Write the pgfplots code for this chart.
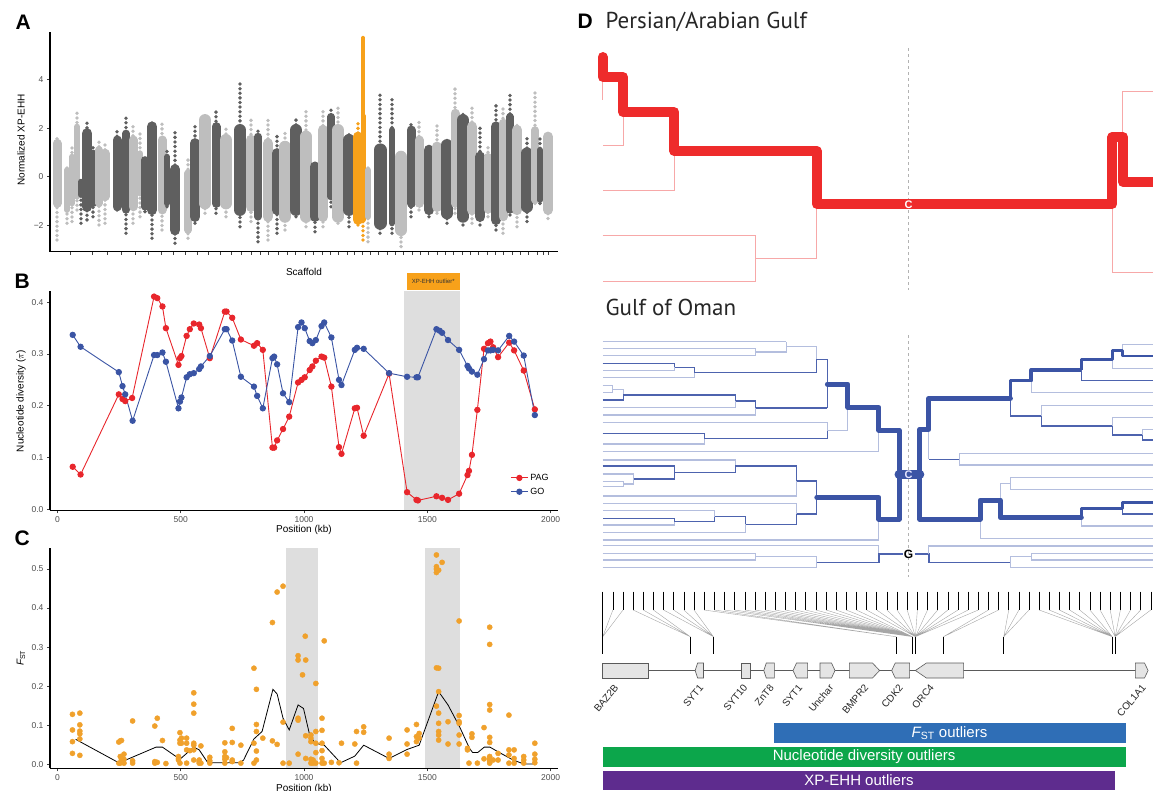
\documentclass[border=0pt]{standalone}
\usepackage{pgfplots}
\pgfplotsset{compat=1.18}
\usepackage{fontspec}
\setmainfont{Liberation Sans}
\setsansfont{Liberation Sans}
\newfontfamily\ptsans{PT Sans}
\definecolor{lgray}{HTML}{BEBEBE}
\definecolor{dgray}{HTML}{5F5F5F}
\definecolor{xorange}{HTML}{F7A11A}
\definecolor{pagred}{HTML}{E8262C}
\definecolor{goblue}{HTML}{3A54A4}
\definecolor{shade}{HTML}{DEDEDE}
\definecolor{fstorange}{HTML}{F0A12C}
\definecolor{treered}{HTML}{EE2B2B}
\definecolor{treeredl}{HTML}{F7A8A8}
\definecolor{tblue}{HTML}{3B54A5}
\definecolor{tbluem}{HTML}{4D63AE}
\definecolor{tbluel}{HTML}{B4BEDE}
\definecolor{genefill}{HTML}{E5E5E5}
\definecolor{genedraw}{HTML}{5A5A5A}
\definecolor{barblue}{HTML}{2F6EB6}
\definecolor{bargreen}{HTML}{0CA64B}
\definecolor{barpurple}{HTML}{5E2C8E}
\definecolor{gray30}{HTML}{4D4D4D}
\pgfplotsset{
  ggax/.style={scale only axis, axis x line*=bottom, axis y line*=left,
    axis line style={line width=1.3pt, black}, tick style={black!75, line width=0.7pt},
    major tick length=3pt, tick align=outside,
    tick label style={font=\fontsize{8.5}{10}\selectfont, color=gray30},
    /pgf/number format/assume math mode=true},
  col/.style={line cap=round, line width=#1},
  tl/.style={line cap=round, line width=3.8pt, dash pattern=on 0pt off 4.6pt},
  obl/.style={tbluel, line width=1.1pt},
  obm/.style={tbluem, line width=1.2pt},
  obt/.style={tblue, line width=5pt, line cap=round, line join=round},
  obt3/.style={tblue, line width=3.5pt, line join=round},
  obt2/.style={tblue, line width=2.6pt, line join=round},
  pthin/.style={treeredl, line width=1pt},
  pthick/.style={treered, line width=10pt, line cap=round, line join=round},
}
\pgfplotstableread{
kb val
62 0.082
94 0.067
249 0.222
264 0.213
275 0.209
303 0.215
392 0.411
405 0.408
426 0.392
440 0.350
491 0.279
497 0.292
503 0.296
524 0.335
537 0.348
553 0.359
575 0.357
582 0.350
618 0.292
679 0.382
686 0.382
709 0.370
744 0.328
797 0.316
810 0.321
833 0.308
872 0.119
879 0.119
891 0.133
915 0.155
940 0.179
976 0.245
990 0.250
1003 0.255
1023 0.269
1034 0.276
1048 0.287
1071 0.295
1082 0.293
1111 0.237
1142 0.120
1152 0.107
1206 0.195
1215 0.196
1242 0.142
1345 0.262
1418 0.033
1456 0.018
1462 0.017
1537 0.025
1560 0.022
1584 0.018
1629 0.030
1663 0.066
1669 0.074
1681 0.105
1703 0.192
1730 0.310
1746 0.321
1756 0.324
1767 0.313
1787 0.294
1832 0.322
1852 0.307
1891 0.268
1936 0.193
}\pag
\pgfplotstableread{
kb val
62 0.337
94 0.314
249 0.265
264 0.238
275 0.222
305 0.171
392 0.298
405 0.298
426 0.303
440 0.285
491 0.195
497 0.208
503 0.216
524 0.255
537 0.261
553 0.263
575 0.271
582 0.276
618 0.296
679 0.348
686 0.348
709 0.326
744 0.256
797 0.237
810 0.219
833 0.195
872 0.292
879 0.295
891 0.280
915 0.224
940 0.207
976 0.352
990 0.361
1003 0.350
1023 0.325
1034 0.321
1048 0.327
1071 0.354
1082 0.361
1111 0.332
1142 0.250
1152 0.240
1206 0.308
1215 0.312
1242 0.310
1345 0.263
1418 0.256
1456 0.255
1462 0.255
1537 0.348
1550 0.345
1560 0.341
1584 0.327
1629 0.308
1663 0.277
1669 0.272
1681 0.266
1703 0.260
1730 0.290
1746 0.307
1756 0.307
1767 0.308
1787 0.307
1832 0.335
1852 0.324
1891 0.297
1936 0.182
}\go
\pgfplotstableread{
kb val
61 0.128
61 0.088
61 0.058
61 0.028
91 0.131
91 0.101
91 0.085
91 0.078
91 0.065
91 0.023
249 0.057
249 0.003
255 0.060
255 0.020
255 0.003
260 0.061
260 0.013
260 0.007
270 0.026
270 0.013
270 0.003
305 0.111
305 0.009
305 0.003
395 0.098
395 0.007
395 0.003
405 0.118
405 0.005
426 0.061
440 0.002
491 0.020
491 0.015
491 0.011
497 0.081
497 0.062
497 0.054
497 0.003
503 0.054
503 0.067
524 0.067
524 0.054
524 0.037
524 0.003
537 0.035
553 0.183
553 0.154
553 0.131
553 0.054
553 0.049
553 0.037
553 0.011
575 0.011
575 0.007
575 0.003
582 0.047
582 0.003
618 0.018
618 0.009
618 0.003
679 0.055
679 0.032
679 0.020
679 0.013
679 0.003
686 0.017
709 0.092
709 0.056
709 0.011
709 0.007
744 0.049
744 0.003
797 0.246
797 0.054
797 0.003
807 0.192
807 0.102
807 0.084
807 0.034
807 0.011
833 0.067
872 0.363
872 0.060
891 0.441
891 0.051
915 0.456
915 0.108
915 0.003
940 0.003
976 0.278
976 0.267
976 0.118
976 0.113
976 0.026
994 0.229
1005 0.328
1007 0.267
1007 0.073
1007 0.015
1028 0.075
1028 0.067
1028 0.058
1028 0.013
1028 0.003
1037 0.011
1037 0.003
1048 0.207
1048 0.084
1048 0.054
1048 0.030
1048 0.003
1073 0.118
1073 0.087
1073 0.054
1073 0.035
1073 0.015
1073 0.003
1082 0.316
1082 0.003
1111 0.005
1142 0.004
1152 0.054
1206 0.052
1213 0.084
1213 0.003
1242 0.096
1242 0.082
1345 0.067
1345 0.026
1345 0.015
1418 0.088
1418 0.052
1418 0.026
1456 0.102
1456 0.071
1456 0.058
1467 0.079
1467 0.067
1537 0.536
1537 0.506
1537 0.500
1537 0.491
1537 0.247
1537 0.149
1546 0.497
1546 0.246
1546 0.186
1546 0.131
1546 0.105
1546 0.084
1546 0.075
1546 0.062
1560 0.517
1584 0.109
1584 0.052
1629 0.367
1629 0.125
1629 0.109
1629 0.105
1629 0.075
1629 0.052
1663 0.041
1663 0.037
1669 0.003
1681 0.078
1681 0.069
1703 0.003
1730 0.094
1730 0.014
1753 0.351
1753 0.307
1753 0.153
1753 0.139
1753 0.069
1753 0.056
1753 0.020
1753 0.015
1753 0.011
1753 0.007
1753 0.003
1767 0.011
1787 0.028
1787 0.011
1831 0.126
1831 0.037
1831 0.024
1831 0.003
1852 0.037
1852 0.015
1852 0.003
1891 0.020
1891 0.011
1891 0.003
1936 0.054
1936 0.026
1936 0.013
1936 0.004
}\fst
\pgfplotstableread{
kb val
74 0.064
249 0.004
270 0.009
400 0.044
426 0.044
497 0.013
553 0.044
575 0.037
610 0.004
743 0.004
755 0.011
797 0.065
830 0.084
874 0.192
891 0.180
915 0.118
940 0.088
976 0.152
998 0.143
1023 0.075
1045 0.054
1082 0.049
1138 0.011
1145 0.003
1206 0.021
1242 0.049
1345 0.015
1418 0.038
1467 0.049
1546 0.186
1584 0.152
1631 0.096
1671 0.041
1684 0.030
1704 0.030
1731 0.044
1754 0.044
1787 0.032
1848 0.011
1891 0.001
1936 0.001
}\fstline
\begin{document}
\begin{tikzpicture}
%%%%%%%%%%%%%%%% PANEL A
\begin{axis}[ggax, at={(50pt,538.3pt)}, anchor=south west, width=508pt, height=220pt,
  xmin=50, xmax=558, ymin=-3.09, ymax=5.97,
  ytick={-2,0,2,4}, yticklabels={−2,0,2,4},
  xtick={70,92,107,121,135,148,161,173,185,197,208,220,231,241,251,260,268,278,287,295,305,313,322,330,338,347,354,362,370,378,387,395,403,412,420,428,437,445,453,462,470,478,487,495,503,512,520,528,537,543,548},
  xticklabels={}]
\addplot[lgray,tl] coordinates {(57,-2.61)(57,1.71)};
\addplot[lgray,col=9pt] coordinates {(57,-1.10)(57,1.37)};
\addplot[lgray,tl] coordinates {(67,-1.92)(67,0.48)};
\addplot[lgray,col=6pt] coordinates {(67,-1.37)(67,0.27)};
\addplot[lgray,tl] coordinates {(72,-1.85)(72,1.23)};
\addplot[lgray,col=6pt] coordinates {(72,-1.10)(72,0.82)};
\addplot[lgray,tl] coordinates {(77,-1.37)(77,2.68)};
\addplot[lgray,col=6pt] coordinates {(77,-0.82)(77,2.06)};
\addplot[dgray,tl] coordinates {(81,-1.92)(81,-0.14)};
\addplot[dgray,col=6pt] coordinates {(81,-0.75)(81,-0.21)};
\addplot[dgray,tl] coordinates {(87,-1.78)(87,2.20)};
\addplot[dgray,col=10.5pt] coordinates {(87,-1.24)(87,1.78)};
\addplot[dgray,tl] coordinates {(93,-1.65)(93,1.37)};
\addplot[dgray,col=7.5pt] coordinates {(93,-1.10)(93,0.96)};
\addplot[lgray,tl] coordinates {(99,-1.99)(99,1.44)};
\addplot[lgray,col=7.5pt] coordinates {(99,-1.10)(99,1.10)};
\addplot[lgray,tl] coordinates {(105,-1.92)(105,1.37)};
\addplot[lgray,col=9pt] coordinates {(105,-0.82)(105,0.96)};
\addplot[dgray,tl] coordinates {(117,-1.37)(117,1.99)};
\addplot[dgray,col=9pt] coordinates {(117,-1.24)(117,1.51)};
\addplot[dgray,tl] coordinates {(126,-2.33)(126,2.47)};
\addplot[dgray,col=7.5pt] coordinates {(126,-1.37)(126,1.78)};
\addplot[lgray,tl] coordinates {(133,-1.92)(133,2.13)};
\addplot[lgray,col=9pt] coordinates {(133,-1.24)(133,1.51)};
\addplot[lgray,tl] coordinates {(140,-1.65)(140,1.92)};
\addplot[lgray,col=6pt] coordinates {(140,-0.69)(140,0.96)};
\addplot[dgray,tl] coordinates {(145,-1.44)(145,0.69)};
\addplot[dgray,col=7.5pt] coordinates {(145,-1.24)(145,0.69)};
\addplot[dgray,tl] coordinates {(152,-2.54)(152,2.33)};
\addplot[dgray,col=10.5pt] coordinates {(152,-1.37)(152,2.06)};
\addplot[lgray,tl] coordinates {(162,-2.20)(162,2.30)};
\addplot[lgray,col=9pt] coordinates {(162,-1.37)(162,1.51)};
\addplot[dgray,tl] coordinates {(167,-1.24)(167,1.17)};
\addplot[dgray,col=6pt] coordinates {(167,-1.10)(167,0.82)};
\addplot[dgray,tl] coordinates {(175,-2.74)(175,1.99)};
\addplot[dgray,col=10.5pt] coordinates {(175,-2.20)(175,0.30)};
\addplot[lgray,tl] coordinates {(188,-2.54)(188,0.69)};
\addplot[lgray,col=7.5pt] coordinates {(188,-2.20)(188,0.14)};
\addplot[dgray,tl] coordinates {(195,-1.92)(195,2.13)};
\addplot[dgray,col=10.5pt] coordinates {(195,-1.65)(195,1.37)};
\addplot[lgray,tl] coordinates {(205,-1.51)(205,2.54)};
\addplot[lgray,col=12pt] coordinates {(205,-1.10)(205,2.33)};
\addplot[dgray,tl] coordinates {(216,-1.51)(216,2.74)};
\addplot[dgray,col=9pt] coordinates {(216,-1.10)(216,2.06)};
\addplot[lgray,tl] coordinates {(226,-1.65)(226,2.06)};
\addplot[lgray,col=12pt] coordinates {(226,-1.10)(226,1.51)};
\addplot[dgray,tl] coordinates {(240,-2.06)(240,3.98)};
\addplot[dgray,col=12pt] coordinates {(240,-1.37)(240,1.92)};
\addplot[lgray,tl] coordinates {(251,-1.85)(251,2.33)};
\addplot[lgray,col=10.5pt] coordinates {(251,-1.24)(251,1.51)};
\addplot[dgray,tl] coordinates {(258,-2.68)(258,1.92)};
\addplot[dgray,col=7.5pt] coordinates {(258,-1.65)(258,1.65)};
\addplot[lgray,tl] coordinates {(268,-2.61)(268,2.33)};
\addplot[lgray,col=10.5pt] coordinates {(268,-1.65)(268,1.37)};
\addplot[dgray,tl] coordinates {(277,-2.33)(277,1.78)};
\addplot[dgray,col=10.5pt] coordinates {(277,-1.37)(277,0.96)};
\addplot[lgray,tl] coordinates {(285,-2.20)(285,1.78)};
\addplot[lgray,col=12pt] coordinates {(285,-1.65)(285,1.23)};
\addplot[dgray,tl] coordinates {(296,-1.65)(296,2.40)};
\addplot[dgray,col=12pt] coordinates {(296,-1.37)(296,1.92)};
\addplot[lgray,tl] coordinates {(306,-2.06)(306,2.74)};
\addplot[lgray,col=12pt] coordinates {(306,-1.65)(306,1.65)};
\addplot[dgray,tl] coordinates {(315,-2.27)(315,0.55)};
\addplot[dgray,col=10.5pt] coordinates {(315,-1.65)(315,0.41)};
\addplot[lgray,tl] coordinates {(323,-2.06)(323,2.68)};
\addplot[lgray,col=10.5pt] coordinates {(323,-1.65)(323,1.92)};
\addplot[dgray,tl] coordinates {(331,-1.24)(331,2.74)};
\addplot[dgray,col=7.5pt] coordinates {(331,-0.82)(331,2.47)};
\addplot[lgray,tl] coordinates {(338,-1.92)(338,2.88)};
\addplot[lgray,col=12pt] coordinates {(338,-1.65)(338,1.92)};
\addplot[dgray,tl] coordinates {(349,-2.06)(349,1.78)};
\addplot[dgray,col=12pt] coordinates {(349,-1.37)(349,1.51)};
\addplot[xorange,tl] coordinates {(358,-1.99)(358,2.33)};
\addplot[xorange,col=10pt] coordinates {(358,-1.78)(358,1.65)};
\addplot[xorange,tl] coordinates {(363,-2.61)(363,5.79)};
\addplot[xorange,col=5pt] coordinates {(363,-1.78)(363,2.50)};
\addplot[xorange,col=3.5pt] coordinates {(363,2.50)(363,5.72)};
\addplot[lgray,tl] coordinates {(368,-2.68)(368,0.41)};
\addplot[lgray,col=6pt] coordinates {(368,-1.65)(368,0.27)};
\addplot[dgray,tl] coordinates {(380,-2.33)(380,3.36)};
\addplot[dgray,col=13pt] coordinates {(380,-1.92)(380,1.10)};
\addplot[dgray,tl] coordinates {(392,-2.33)(392,3.22)};
\addplot[dgray,col=6pt] coordinates {(392,-1.92)(392,1.92)};
\addplot[lgray,tl] coordinates {(401,-2.88)(401,1.03)};
\addplot[lgray,col=12pt] coordinates {(401,-2.20)(401,0.82)};
\addplot[dgray,tl] coordinates {(411,-1.65)(411,2.20)};
\addplot[dgray,col=9pt] coordinates {(411,-1.10)(411,1.92)};
\addplot[lgray,tl] coordinates {(419,-1.37)(419,2.33)};
\addplot[lgray,col=9pt] coordinates {(419,-1.10)(419,1.51)};
\addplot[dgray,tl] coordinates {(429,-1.65)(429,1.17)};
\addplot[dgray,col=10.5pt] coordinates {(429,-1.37)(429,1.10)};
\addplot[lgray,tl] coordinates {(437,-1.51)(437,2.20)};
\addplot[lgray,col=10.5pt] coordinates {(437,-1.24)(437,1.23)};
\addplot[dgray,tl] coordinates {(447,-1.92)(447,1.65)};
\addplot[dgray,col=12pt] coordinates {(447,-1.51)(447,1.30)};
\addplot[lgray,tl] coordinates {(455,-1.51)(455,3.64)};
\addplot[lgray,col=9pt] coordinates {(455,-1.10)(455,2.61)};
\addplot[dgray,tl] coordinates {(463,-1.99)(463,2.61)};
\addplot[dgray,col=12pt] coordinates {(463,-1.65)(463,2.33)};
\addplot[lgray,tl] coordinates {(472,-1.92)(472,2.95)};
\addplot[lgray,col=10.5pt] coordinates {(472,-1.37)(472,2.06)};
\addplot[dgray,tl] coordinates {(480,-1.99)(480,1.99)};
\addplot[dgray,col=10.5pt] coordinates {(480,-1.65)(480,0.82)};
\addplot[lgray,tl] coordinates {(488,-1.65)(488,1.23)};
\addplot[lgray,col=7.5pt] coordinates {(488,-1.37)(488,0.82)};
\addplot[dgray,tl] coordinates {(496,-2.20)(496,2.95)};
\addplot[dgray,col=10.5pt] coordinates {(496,-1.78)(496,2.06)};
\addplot[lgray,tl] coordinates {(503,-2.33)(503,2.88)};
\addplot[lgray,col=9pt] coordinates {(503,-1.65)(503,2.20)};
\addplot[dgray,tl] coordinates {(510,-1.58)(510,3.50)};
\addplot[dgray,col=7.5pt] coordinates {(510,-1.37)(510,2.47)};
\addplot[lgray,tl] coordinates {(517,-2.06)(517,2.20)};
\addplot[lgray,col=10.5pt] coordinates {(517,-1.37)(517,1.92)};
\addplot[dgray,tl] coordinates {(527,-1.85)(527,1.65)};
\addplot[dgray,col=12pt] coordinates {(527,-1.24)(527,0.96)};
\addplot[lgray,tl] coordinates {(535,-1.10)(535,3.57)};
\addplot[lgray,col=7.5pt] coordinates {(535,-0.96)(535,1.92)};
\addplot[dgray,tl] coordinates {(540,-1.10)(540,1.65)};
\addplot[dgray,col=6pt] coordinates {(540,-0.96)(540,1.10)};
\addplot[lgray,tl] coordinates {(548,-1.72)(548,1.85)};
\addplot[lgray,col=10pt] coordinates {(548,-1.37)(548,1.65)};
\end{axis}
%%%%%%%%%%%%%%%% PANEL B
\begin{axis}[ggax, at={(50pt,279.5pt)}, anchor=south west, width=508pt, height=219.8pt,
  xmin=-30, xmax=2030, ymin=-0.0025, ymax=0.4224,
  xtick={0,500,1000,1500,2000}, xticklabels={0,500,1000,1500,2000},
  ytick={0,0.1,0.2,0.3,0.4}, yticklabels={0.0,0.1,0.2,0.3,0.4},
  legend style={at={(0.9,0.185)}, anchor=north west, draw=none, fill=none,
    font=\fontsize{9}{10}\selectfont, row sep=2pt},
  legend cell align=left]
\addplot[fill=shade, draw=none, forget plot] coordinates {(1405,-0.0025) (1405,0.4224) (1632,0.4224) (1632,-0.0025)} -- cycle;
\addplot[pagred, line width=0.9pt, mark=*, mark size=2.7pt] table[x=kb,y=val] {\pag};
\addplot[goblue, line width=0.9pt, mark=*, mark size=2.7pt] table[x=kb,y=val] {\go};
\legend{PAG,GO}
\end{axis}
%%%%%%%%%%%%%%%% PANEL C
\begin{axis}[ggax, at={(50pt,21.7pt)}, anchor=south west, width=508pt, height=220pt,
  xmin=-30, xmax=2030, ymin=-0.0102, ymax=0.553,
  xtick={0,500,1000,1500,2000}, xticklabels={0,500,1000,1500,2000},
  ytick={0,0.1,0.2,0.3,0.4,0.5}, yticklabels={0.0,0.1,0.2,0.3,0.4,0.5}]
\addplot[fill=shade, draw=none] coordinates {(929,-0.0102) (929,0.553) (1055,0.553) (1055,-0.0102)} -- cycle;
\addplot[fill=shade, draw=none] coordinates {(1490,-0.0102) (1490,0.553) (1633,0.553) (1633,-0.0102)} -- cycle;
\addplot[only marks, mark=*, mark size=2.6pt, fstorange] table[x=kb,y=val] {\fst};
\addplot[black, line width=0.8pt] table[x=kb,y=val] {\fstline};
\end{axis}
%%%%%%%%%%%%%%%% CANVAS (labels and panel D)
\begin{axis}[at={(0pt,0pt)}, anchor=south west, scale only axis, width=1153pt, height=790pt,
  xmin=0, xmax=1153, ymin=0, ymax=790, y dir=reverse, hide axis, clip=false,
  unbounded coords=jump]
\node[anchor=base west, font=\fontsize{21}{24}\selectfont\bfseries] at (axis cs:12,29.3) {A};
\node[anchor=base west, font=\fontsize{21}{24}\selectfont\bfseries] at (axis cs:11,288.3) {B};
\node[anchor=base west, font=\fontsize{21}{24}\selectfont\bfseries] at (axis cs:11,545) {C};
\node[anchor=base west, font=\fontsize{21}{24}\selectfont\bfseries] at (axis cs:574,28.3) {D};
\node[rotate=90, font=\fontsize{10}{12}\selectfont] at (axis cs:21,140) {Normalized XP-EHH};
\node[rotate=90, font=\fontsize{10}{12}\selectfont] at (axis cs:21,401) {Nucleotide diversity ($\pi$)};
\node[rotate=90, font=\fontsize{10}{12}\selectfont] at (axis cs:21,658) {{\itshape F}\textsubscript{ST}};
\node[font=\fontsize{10}{12}\selectfont] at (axis cs:304,272) {Scaffold};
\node[font=\fontsize{10}{12}\selectfont] at (axis cs:304,530) {Position (kb)};
\node[font=\fontsize{10}{12}\selectfont] at (axis cs:304,789) {Position (kb)};
\addplot[fill=xorange, draw=none] coordinates {(406.7,273.3) (460,273.3) (460,290) (406.7,290)} -- cycle;
\node[font=\fontsize{6}{7}\selectfont, color=black!80] at (axis cs:433.3,281.7) {XP-EHH outlier*};
\node[anchor=base west, font=\ptsans\fontsize{23}{26}\selectfont, color=black!85] at (axis cs:602,28.3) {Persian/Arabian Gulf};
\node[anchor=base west, font=\ptsans\fontsize{23}{26}\selectfont, color=black!85] at (axis cs:602,315) {Gulf of Oman};
% ---- Persian tree
\addplot[gray!60, dashed, line width=0.5pt] coordinates {(908.5,48) (908.5,290)};
\addplot[pthin] coordinates {(602.7,80) (602.7,100)};
\addplot[pthin] coordinates {(623,115) (623,145) (602.7,145)};
\addplot[pthin] coordinates {(674.3,155) (674.3,190) (602.7,190)};
\addplot[pthin] coordinates {(816.8,208) (816.8,258) (755.4,258)};
\addplot[pthin] coordinates {(602.7,235) (755.4,235) (755.4,281) (602.7,281)};
\addplot[pthin] coordinates {(1122.6,132) (1122.6,91) (1153,91)};
\addplot[pthin] coordinates {(1112.3,208) (1112.3,272) (1153,272)};
\addplot[pthick] coordinates {(602.7,57) (602.7,77) (623,77) (623,112) (674.3,112) (674.3,151) (816.8,151) (816.8,204) (1112.3,204) (1112.3,137) (1123,137) (1123,182) (1153,182)};
\node[font=\fontsize{11}{12}\selectfont\bfseries, color=white] at (axis cs:908.5,205) {C};
% ---- Oman tree
\addplot[gray!60, dashed, line width=0.5pt] coordinates {(908.5,335) (908.5,577)};
\addplot[obl] coordinates {(602.7,341.7) (786.4,341.7)};
\addplot[obl] coordinates {(602.7,348.3) (755.4,348.3) (755.4,355.7) (602.7,355.7)};
\addplot[obl] coordinates {(755.4,352) (786.4,352) (786.4,341.7)};
\addplot[obl] coordinates {(786.4,346.7) (816.8,346.7) (816.8,359.3)};
\addplot[obm] coordinates {(602.7,363.3) (674.3,363.3) (674.3,367.3) (694.4,367.3) (694.4,372.7) (816.8,372.7) (816.8,359.3) (827.4,359.3) (827.4,408)};
\addplot[obl] coordinates {(674.3,367.3) (674.3,370.7) (602.7,370.7)};
\addplot[obl] coordinates {(694.4,372.7) (694.4,377.7) (602.7,377.7)};
\addplot[obl] coordinates {(602.7,385.7) (612.2,385.7) (612.2,392.7) (602.7,392.7)};
\addplot[obl] coordinates {(612.2,389.3) (623.1,389.3) (623.1,395)};
\addplot[obm] coordinates {(602.7,400) (623.1,400) (623.1,395) (735.3,395) (735.3,401) (755.4,401) (755.4,408) (827.4,408)};
\addplot[obl] coordinates {(735.3,401) (735.3,407.3) (602.7,407.3)};
\addplot[obl] coordinates {(755.4,408) (755.4,415) (602.7,415)};
\addplot[obl] coordinates {(602.7,422.7) (827.4,422.7) (827.4,430.7) (847.8,430.7) (847.8,407.3)};
\addplot[obm] coordinates {(602.7,433.3) (704.2,433.3) (704.2,438.7) (827.4,438.7) (827.4,430.7)};
\addplot[obl] coordinates {(704.2,438.7) (704.2,444) (602.7,444)};
\addplot[obl] coordinates {(602.7,451.7) (878.9,451.7) (878.9,430)};
\addplot[obl] coordinates {(602.7,460) (735.3,460) (735.3,466)};
\addplot[obm] coordinates {(602.7,466) (674.3,466) (674.3,472.7) (735.3,472.7) (735.3,466) (796.7,466) (796.7,481) (816.8,481) (816.8,497.3)};
\addplot[obl] coordinates {(602.7,474) (633.7,474) (633.7,484) (623.1,484)};
\addplot[obl] coordinates {(602.7,481.7) (623.1,481.7) (623.1,486.7) (602.7,486.7)};
\addplot[obm] coordinates {(633.7,479) (674.3,479) (674.3,472.7)};
\addplot[obl] coordinates {(796.7,481) (796.7,496) (602.7,496)};
\addplot[obm] coordinates {(816.8,497.3) (816.8,514) (796.7,514) (796.7,524.3) (745.5,524.3) (745.5,516.7) (714.5,516.7) (714.5,521.7) (674.3,521.7) (674.3,518.3) (602.7,518.3)};
\addplot[obl] coordinates {(796.7,514) (796.7,503.3) (602.7,503.3)};
\addplot[obl] coordinates {(714.5,516.7) (714.5,510.7) (602.7,510.7)};
\addplot[obl] coordinates {(674.3,521.7) (674.3,525) (602.7,525)};
\addplot[obl] coordinates {(745.5,524.3) (745.5,532.7) (602.7,532.7)};
\addplot[obl] coordinates {(602.7,540) (878.9,540) (878.9,519.3)};
\addplot[obl] coordinates {(602.7,545.7) (878.9,545.7) (878.9,554)};
\addplot[obl] coordinates {(602.7,553.3) (755.4,553.3) (755.4,560) (602.7,560)};
\addplot[obl] coordinates {(755.4,556.7) (816.8,556.7) (816.8,562.7)};
\addplot[obl] coordinates {(602.7,567.3) (816.8,567.3) (816.8,562.7)};
\addplot[obm] coordinates {(816.8,562.7) (878.9,562.7) (878.9,554) (902.5,554)};
\addplot[obm] coordinates {(914.5,554) (928.9,554) (928.9,562.7) (1010.4,562.7)};
\addplot[obl] coordinates {(928.9,554) (928.9,546) (1153,546)};
\addplot[obl] coordinates {(1010.4,562.7) (1010.4,556.7) (1031.2,556.7) (1031.2,553.3) (1153,553.3)};
\addplot[obl] coordinates {(1031.2,556.7) (1031.2,560) (1153,560)};
\addplot[obl] coordinates {(1010.4,562.7) (1010.4,567.3) (1153,567.3)};
\addplot[obl] coordinates {(1122.6,350.7) (1122.6,344.3) (1153,344.3)};
\addplot[obl] coordinates {(1112.3,359.3) (1112.3,368.3) (1153,368.3)};
\addplot[obm] coordinates {(1081.3,370) (1081.3,380.7) (1153,380.7)};
\addplot[obl] coordinates {(1031.2,380.7) (1031.2,392.7) (1153,392.7)};
\addplot[obm] coordinates {(1010.4,398.3) (1010.4,416) (1041.1,416) (1041.1,426) (1112.3,426) (1112.3,435) (1142.6,435) (1142.6,440) (1153,440)};
\addplot[obl] coordinates {(1041.1,416) (1041.1,405.3) (1153,405.3)};
\addplot[obl] coordinates {(1112.3,426) (1112.3,417.3) (1153,417.3)};
\addplot[obl] coordinates {(1142.6,435) (1142.6,429.3) (1153,429.3)};
\addplot[obl] coordinates {(928.9,429.3) (928.9,459.3)};
\addplot[obm] coordinates {(928.9,459.3) (959.2,459.3)};
\addplot[obl] coordinates {(959.2,459.3) (959.2,453.3) (1153,453.3)};
\addplot[obl] coordinates {(959.2,459.3) (959.2,465) (1153,465)};
\addplot[obl] coordinates {(980.1,519.3) (980.1,538.3) (1153,538.3)};
\addplot[obl] coordinates {(1000.2,500) (1000.2,483.3) (1010.4,483.3)};
\addplot[obl] coordinates {(1010.4,483.3) (1010.4,477.7) (1153,477.7)};
\addplot[obl] coordinates {(1010.4,483.3) (1010.4,489.3) (1153,489.3)};
\addplot[obl] coordinates {(1081.3,517.7) (1081.3,526) (1153,526)};
\addplot[obm] coordinates {(1122.6,508.3) (1122.6,514) (1153,514)};
\addplot[obt] coordinates {(827.4,384) (847.8,384) (847.8,407.3) (878.9,407.3) (878.9,430) (899,430) (899,474.3)};
\addplot[obt] coordinates {(816.8,497.3) (878.9,497.3) (878.9,519.3) (899,519.3) (899,474.3)};
\addplot[obt] coordinates {(919.8,474.3) (919.8,429.3) (928.9,429.3) (928.9,398.3) (1010.4,398.3)};
\addplot[obt3] coordinates {(1010.4,398.3) (1010.4,380.7) (1031.2,380.7) (1031.2,370) (1081.3,370)};
\addplot[obt2] coordinates {(1081.3,370) (1081.3,359.3) (1112.3,359.3) (1112.3,350.7) (1122.6,350.7) (1122.6,356) (1153,356)};
\addplot[obt] coordinates {(919.8,474.3) (919.8,519.3) (980.1,519.3) (980.1,500) (1000.2,500) (1000.2,517.7) (1081.3,517.7)};
\addplot[obt3] coordinates {(1081.3,517.7) (1081.3,508.3) (1122.6,508.3) (1122.6,502.3) (1153,502.3)};
\addplot[tblue, line width=9pt, line cap=round] coordinates {(899,474.3) (919.8,474.3)};
\node[font=\fontsize{11}{12}\selectfont\bfseries, color=blue!10] at (axis cs:908.5,474.8) {C};
\node[font=\fontsize{12}{13}\selectfont\bfseries, color=black] at (axis cs:908.5,554.5) {G};
% ---- gene annotation
\addplot[black, line width=0.6pt] coordinates {
(612.85,591.7)(612.85,610)(612.85,nan) (623.0,591.7)(623.0,610)(623.0,nan) (633.15,591.7)(633.15,610)(633.15,nan)
(643.3,591.7)(643.3,610)(643.3,nan) (653.45,591.7)(653.45,610)(653.45,nan) (663.6,591.7)(663.6,610)(663.6,nan)
(673.75,591.7)(673.75,610)(673.75,nan) (683.9,591.7)(683.9,610)(683.9,nan) (694.05,591.7)(694.05,610)(694.05,nan)
(704.2,591.7)(704.2,610)(704.2,nan) (714.35,591.7)(714.35,610)(714.35,nan) (724.5,591.7)(724.5,610)(724.5,nan)
(734.65,591.7)(734.65,610)(734.65,nan) (744.8,591.7)(744.8,610)(744.8,nan) (754.95,591.7)(754.95,610)(754.95,nan)
(765.1,591.7)(765.1,610)(765.1,nan) (775.25,591.7)(775.25,610)(775.25,nan) (785.4,591.7)(785.4,610)(785.4,nan)
(795.55,591.7)(795.55,610)(795.55,nan) (805.7,591.7)(805.7,610)(805.7,nan) (815.85,591.7)(815.85,610)(815.85,nan)
(826.0,591.7)(826.0,610)(826.0,nan) (836.15,591.7)(836.15,610)(836.15,nan) (846.3,591.7)(846.3,610)(846.3,nan)
(856.45,591.7)(856.45,610)(856.45,nan) (866.6,591.7)(866.6,610)(866.6,nan) (876.75,591.7)(876.75,610)(876.75,nan)
(886.9,591.7)(886.9,610)(886.9,nan) (897.05,591.7)(897.05,610)(897.05,nan) (907.2,591.7)(907.2,610)(907.2,nan)
(917.35,591.7)(917.35,610)(917.35,nan) (927.5,591.7)(927.5,610)(927.5,nan) (937.65,591.7)(937.65,610)(937.65,nan)
(947.8,591.7)(947.8,610)(947.8,nan) (957.95,591.7)(957.95,610)(957.95,nan) (968.1,591.7)(968.1,610)(968.1,nan)
(978.25,591.7)(978.25,610)(978.25,nan) (988.4,591.7)(988.4,610)(988.4,nan) (998.55,591.7)(998.55,610)(998.55,nan)
(1008.7,591.7)(1008.7,610)(1008.7,nan) (1018.85,591.7)(1018.85,610)(1018.85,nan) (1029.0,591.7)(1029.0,610)(1029.0,nan)
(1039.15,591.7)(1039.15,610)(1039.15,nan) (1049.3,591.7)(1049.3,610)(1049.3,nan) (1059.45,591.7)(1059.45,610)(1059.45,nan)
(1069.6,591.7)(1069.6,610)(1069.6,nan) (1079.75,591.7)(1079.75,610)(1079.75,nan) (1089.9,591.7)(1089.9,610)(1089.9,nan)
(1100.05,591.7)(1100.05,610)(1100.05,nan) (1110.2,591.7)(1110.2,610)(1110.2,nan) (1120.35,591.7)(1120.35,610)(1120.35,nan)
(1130.5,591.7)(1130.5,610)(1130.5,nan) (1140.65,591.7)(1140.65,610)(1140.65,nan) (1150.8,591.7)(1150.8,610)
};
\addplot[gray!70, line width=0.4pt] coordinates {
(612.85,610)(602.7,636.7)(602.7,nan) (623.0,610)(602.7,636.7)(602.7,nan)
(633.15,610)(690.3,636.7)(690.3,nan) (643.3,610)(690.3,636.7)(690.3,nan) (653.45,610)(690.3,636.7)(690.3,nan)
(663.6,610)(713.4,636.7)(713.4,nan) (673.75,610)(713.4,636.7)(713.4,nan) (683.9,610)(713.4,636.7)(713.4,nan) (694.05,610)(713.4,636.7)(713.4,nan)
(704.2,610)(896.0,636.7)(896.0,nan) (714.35,610)(896.0,636.7)(896.0,nan)
(724.5,610)(912.5,636.7)(912.5,nan) (734.65,610)(912.5,636.7)(912.5,nan) (744.8,610)(912.5,636.7)(912.5,nan)
(754.95,610)(912.5,636.7)(912.5,nan) (765.1,610)(912.5,636.7)(912.5,nan) (775.25,610)(912.5,636.7)(912.5,nan)
(785.4,610)(912.5,636.7)(912.5,nan) (795.55,610)(912.5,636.7)(912.5,nan) (805.7,610)(912.5,636.7)(912.5,nan)
(815.85,610)(912.5,636.7)(912.5,nan) (826.0,610)(912.5,636.7)(912.5,nan) (836.15,610)(912.5,636.7)(912.5,nan)
(846.3,610)(912.5,636.7)(912.5,nan) (856.45,610)(912.5,636.7)(912.5,nan)
(866.6,610)(915.4,636.7)(915.4,nan) (876.75,610)(915.4,636.7)(915.4,nan) (886.9,610)(915.4,636.7)(915.4,nan)
(897.05,610)(915.4,636.7)(915.4,nan) (907.2,610)(915.4,636.7)(915.4,nan) (917.35,610)(915.4,636.7)(915.4,nan)
(927.5,610)(915.4,636.7)(915.4,nan) (937.65,610)(915.4,636.7)(915.4,nan) (947.8,610)(915.4,636.7)(915.4,nan)
(957.95,610)(915.4,636.7)(915.4,nan) (968.1,610)(915.4,636.7)(915.4,nan) (978.25,610)(915.4,636.7)(915.4,nan)
(988.4,610)(943.5,636.7)(943.5,nan) (998.55,610)(943.5,636.7)(943.5,nan)
(1008.7,610)(1003.8,636.7)(1003.8,nan) (1018.85,610)(1003.8,636.7)(1003.8,nan) (1029.0,610)(1003.8,636.7)(1003.8,nan)
(1039.15,610)(1112.3,636.7)(1112.3,nan) (1049.3,610)(1112.3,636.7)(1112.3,nan) (1059.45,610)(1112.3,636.7)(1112.3,nan)
(1069.6,610)(1112.3,636.7)(1112.3,nan) (1079.75,610)(1112.3,636.7)(1112.3,nan) (1089.9,610)(1112.3,636.7)(1112.3,nan)
(1100.05,610)(1115.2,636.7)(1115.2,nan) (1110.2,610)(1115.2,636.7)(1115.2,nan) (1120.35,610)(1115.2,636.7)(1115.2,nan)
(1130.5,610)(1115.2,636.7)(1115.2,nan) (1140.65,610)(1115.2,636.7)(1115.2,nan) (1150.8,610)(1115.2,636.7)
};
\addplot[black, line width=0.7pt] coordinates {(602.7,591.7)(602.7,654)(602.7,nan)
(690.3,636.7)(690.3,654)(690.3,nan) (896.0,636.7)(896.0,654)(896.0,nan) (943.5,636.7)(943.5,654)(943.5,nan) (1003.8,636.7)(1003.8,654)};
\addplot[black, line width=1.3pt] coordinates {(713.4,636.7)(713.4,654)(713.4,nan) (912.5,636.7)(912.5,654)(912.5,nan)
(915.4,636.7)(915.4,654)(915.4,nan) (1112.3,636.7)(1112.3,654)(1112.3,nan) (1115.2,636.7)(1115.2,654)};
\addplot[genedraw, line width=0.8pt] coordinates {(602.7,670.5) (1148,670.5)};
\addplot[fill=genefill, draw=genedraw, line width=0.6pt] coordinates {(602.7,663)(648.3,663)(648.3,678)(602.7,678)} -- cycle;
\addplot[fill=genefill, draw=genedraw, line width=0.6pt] coordinates {(695.1,670.5)(697.6,663)(703.5,663)(703.5,678)(697.6,678)} -- cycle;
\addplot[fill=genefill, draw=genedraw, line width=0.6pt] coordinates {(741.5,663)(750.6,663)(750.6,678)(741.5,678)} -- cycle;
\addplot[fill=genefill, draw=genedraw, line width=0.6pt] coordinates {(763.8,670.5)(766.3,663)(774.4,663)(774.4,678)(766.3,678)} -- cycle;
\addplot[fill=genefill, draw=genedraw, line width=0.6pt] coordinates {(793,670.5)(796.5,663)(807.6,663)(807.6,678)(796.5,678)} -- cycle;
\addplot[fill=genefill, draw=genedraw, line width=0.6pt] coordinates {(820,663)(831.5,663)(835,670.5)(831.5,678)(820,678)} -- cycle;
\addplot[fill=genefill, draw=genedraw, line width=0.6pt] coordinates {(849.3,663)(872.5,663)(879.6,670.5)(872.5,678)(849.3,678)} -- cycle;
\addplot[fill=genefill, draw=genedraw, line width=0.6pt] coordinates {(891.7,670.5)(895.2,663)(909.6,663)(909.6,678)(895.2,678)} -- cycle;
\addplot[fill=genefill, draw=genedraw, line width=0.6pt] coordinates {(915.4,670.5)(926.4,663)(963.6,663)(963.6,678)(926.4,678)} -- cycle;
\addplot[fill=genefill, draw=genedraw, line width=0.6pt] coordinates {(1135.3,663)(1144.5,663)(1148.1,670.5)(1144.5,678)(1135.3,678)} -- cycle;
\begin{scope}[every node/.style={rotate=50, anchor=east, font=\fontsize{10}{11}\selectfont, color=black!85, inner sep=1pt}]
\node at (axis cs:617,685) {BAZ2B};
\node at (axis cs:702,685) {SYT1};
\node at (axis cs:746,685) {SYT10};
\node at (axis cs:772.5,685) {ZnT8};
\node at (axis cs:801,685) {SYT1};
\node at (axis cs:832,685) {Unchar};
\node at (axis cs:867,685) {BMPR2};
\node at (axis cs:901.5,685) {CDK2};
\node at (axis cs:932.6,685) {ORC4};
\node at (axis cs:1144.5,685) {COL1A1};
\end{scope}
\addplot[fill=barblue, draw=none] coordinates {(773.6,722.7) (1125.5,722.7) (1125.5,743.3) (773.6,743.3)} -- cycle;
\addplot[fill=bargreen, draw=none] coordinates {(602.7,746.7) (1125.5,746.7) (1125.5,767.3) (602.7,767.3)} -- cycle;
\addplot[fill=barpurple, draw=none] coordinates {(602.7,770.7) (1115.3,770.7) (1115.3,790) (602.7,790)} -- cycle;
\node[font=\fontsize{15}{16}\selectfont, color=white] at (axis cs:949.5,733) {{\itshape F}\textsubscript{ST} outliers};
\node[font=\fontsize{15}{16}\selectfont, color=white] at (axis cs:864.1,757) {Nucleotide diversity outliers};
\node[font=\fontsize{15}{16}\selectfont, color=white] at (axis cs:859,780.5) {XP-EHH outliers};
\end{axis}
\pgfresetboundingbox
\path[use as bounding box] (0pt,0pt) rectangle (1153pt,790pt);
\end{tikzpicture}
\end{document}
